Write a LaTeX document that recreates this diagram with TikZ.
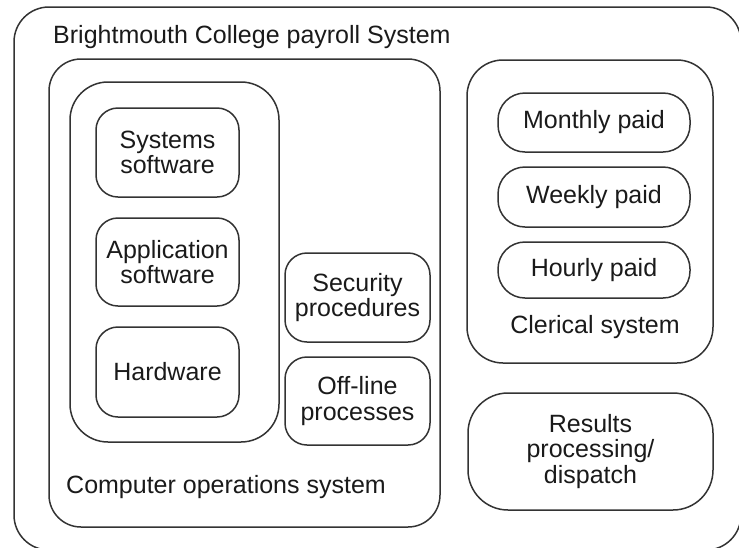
\documentclass[tikz,border=0pt]{standalone}
\usepackage{fontspec}
\setmainfont{Liberation Sans}
\definecolor{linec}{HTML}{333333}
\definecolor{textc}{HTML}{1A1A1A}
\tikzset{
  rbox/.style={draw=linec, line width=1.5pt, inner sep=0pt, align=center,
    text=textc, font=\fontsize{25}{25.5}\selectfont},
  lbl/.style={inner sep=0pt, text=textc, font=\fontsize{25}{25.5}\selectfont}
}
\begin{document}
\begin{tikzpicture}[x=1pt,y=-1pt]
\useasboundingbox (0,0) rectangle (739,547);
\node[rbox, minimum width=727pt, minimum height=543pt, rounded corners=35pt] (outer) at (377.5,278.5) {};
\node[rbox, minimum width=391pt, minimum height=468pt, rounded corners=32pt] (comp) at (244.5,293) {};
\node[rbox, minimum width=209pt, minimum height=360pt, rounded corners=38pt] (group) at (174.5,262) {};
\node[rbox, minimum width=143pt, minimum height=89pt, rounded corners=22pt] (sys) at (167.5,152.5) {Systems\\software};
\node[rbox, minimum width=143pt, minimum height=88pt, rounded corners=22pt] (app) at (167.5,262) {Application\\software};
\node[rbox, minimum width=143pt, minimum height=90pt, rounded corners=22pt] (hw) at (167.5,372) {Hardware};
\node[rbox, minimum width=145pt, minimum height=89pt, rounded corners=22pt] (sec) at (357.5,297.5) {Security\\procedures};
\node[rbox, minimum width=145pt, minimum height=88pt, rounded corners=22pt] (off) at (357.5,401) {Off-line\\processes};
\node[rbox, minimum width=246pt, minimum height=303pt, rounded corners=36pt] (cler) at (590,211.5) {};
\node[rbox, minimum width=192pt, minimum height=59pt, rounded corners=27pt] (mon) at (594,122.5) {Monthly paid};
\node[rbox, minimum width=192pt, minimum height=60pt, rounded corners=27pt] (week) at (594,197) {Weekly paid};
\node[rbox, minimum width=192pt, minimum height=56pt, rounded corners=27pt] (hour) at (594,270) {Hourly paid};
\node[rbox, minimum width=245pt, minimum height=117pt, rounded corners=40pt] (res) at (590.5,451.5) {Results\\processing/\\dispatch};
\node[lbl, anchor=west] (title) at (53,37) {Brightmouth College payroll System};
\node[lbl, anchor=west] (complbl) at (66,487) {Computer operations system};
\node[lbl] (clerlbl) at (595,327) {Clerical system};
\end{tikzpicture}
\end{document}
